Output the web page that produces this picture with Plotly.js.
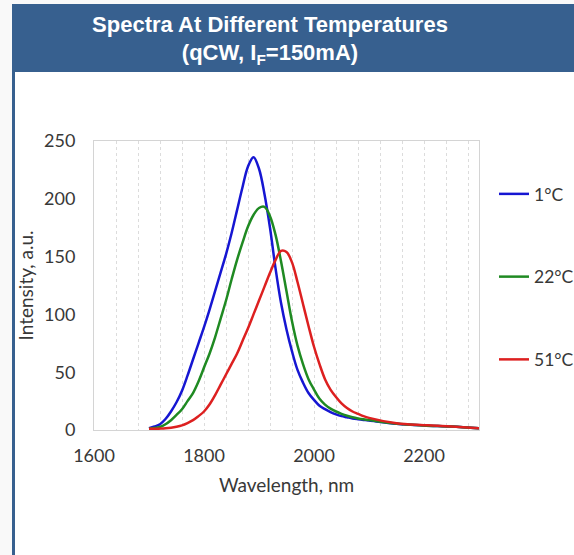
<!DOCTYPE html>
<html>
<head>
<meta charset="utf-8">
<script src="https://cdn.plot.ly/plotly-3.0.1.min.js"></script>
<style>
  html, body { margin: 0; padding: 0; background: #ffffff; }
  #chart { width: 574px; height: 555px; }
</style>
</head>
<body>
<div id="chart"></div>
<script>
// Data
const wavelength = [1700,1710,1720,1730,1740,1750,1760,1770,1780,1790,1800,1810,1820,1830,1840,1850,1860,1870,1880,1890,1900,1910,1920,1930,1940,1950,1960,1970,1980,1990,2000,2010,2020,2030,2040,2050,2060,2070,2080,2090,2100,2150,2200,2250,2300];
const temp1C  = [1.5,3,5,9.5,16,24,34,47,61,75,89,104,120,136,152,170,190,210,228,236,226,204,175,140,110,87,68,52,41,32,26,21,18,15.5,13.5,12,11,10,9.3,8.7,8.2,5.5,4,3,1.5];
const temp22C = [1,1.7,2.7,5,8.5,13,18,25,32,42,54,66,80,96,112,130,147,162,176,186,192,193,185,169,146,120,94,73,57,44,35,27,22,18.5,16,14,12.3,11,10,9.2,8.6,5.5,4,3,1.5];
const temp51C = [1,1,1.2,1.5,2,2.8,4,6,8.5,12,16,22,30,39,48,57,66,77,88,100,112,124,136,147,155,154,145,128,109,90,72,57,44,35,28.5,23,19,16,14,12,10.5,5.8,4.2,3,1.5];
const seriesNames = ['1°C','22°C','51°C'];
const xTicks = [1600,1800,2000,2200];
const yTicks = [0,50,100,150,200,250];

const colors = ['#1616d2','#1f8a22','#dd2020'];
const series = [temp1C, temp22C, temp51C];

const traces = series.map((ys, i) => ({
  type: 'scatter',
  mode: 'lines',
  x: wavelength,
  y: ys,
  name: seriesNames[i],
  legendgroup: 'g' + i,
  line: { color: colors[i], width: 2.5, shape: 'spline', smoothing: 1 }
}));

// plot area: x 94..479, y 141..430
const L = 94, R = 479, T = 141, B = 430, W = 574, H = 555;
const px = v => (v - L) / (R - L);
const py = v => (B - v) / (B - T);
const headerBlue = '#37608f';

const layout = {
  width: W, height: H,
  margin: { l: L, r: W - R, t: T, b: H - B, autoexpand: false },
  paper_bgcolor: '#ffffff',
  plot_bgcolor: '#ffffff',
  showlegend: true,
  title: {
    text: 'Spectra At Different Temperatures<br>(qCW, I<sub>F</sub>=150mA)',
    font: { family: 'Liberation Sans, Arial, sans-serif', size: 22, color: '#ffffff', weight: 'bold' },
    x: 270 / W, xanchor: 'center', xref: 'container',
    y: 1 - 31.5 / H, yanchor: 'middle', yref: 'container'
  },
  font: { family: 'Lato, Carlito, sans-serif', color: '#383838' },
  xaxis: {
    range: [1600, 2300],
    tickvals: xTicks,
    ticktext: xTicks.map(String),
    ticks: '',
    tickfont: { size: 18, color: '#383838' },
    ticklabelstandoff: 9,
    showgrid: true, gridcolor: '#dcdcdc', gridwidth: 1, griddash: 'dot',
    minor: { dtick: 40, tick0: 1600, showgrid: true, gridcolor: '#dcdcdc', gridwidth: 1, griddash: 'dot', ticks: '' },
    showline: true, linecolor: '#d4d4d4', linewidth: 1, mirror: true,
    zeroline: false,
    title: { text: 'Wavelength, nm', font: { size: 19, color: '#383838' }, standoff: 14 }
  },
  yaxis: {
    range: [0, 250],
    tickvals: yTicks,
    ticktext: yTicks.map(String),
    ticks: '',
    tickfont: { size: 18, color: '#383838' },
    ticklabelstandoff: 14,
    showgrid: false,
    showline: true, linecolor: '#d4d4d4', linewidth: 1, mirror: true,
    zeroline: false,
    title: { text: 'Intensity, a.u.', font: { size: 19, color: '#383838' }, standoff: 5 }
  },
  legend: {
    x: px(494), xanchor: 'left',
    y: py(176), yanchor: 'top',
    traceorder: 'grouped',
    tracegroupgap: 57,
    font: { size: 17.5, color: '#383838' },
    bgcolor: 'rgba(0,0,0,0)',
    itemwidth: 30
  },
  shapes: [
    { type: 'rect', xref: 'paper', yref: 'paper', x0: px(0), x1: px(12), y0: py(H), y1: py(0), fillcolor: '#f9f9f9', line: { width: 0 }, layer: 'below' },
    { type: 'rect', xref: 'paper', yref: 'paper', x0: px(12), x1: px(W), y0: py(4), y1: py(0), fillcolor: '#f9f9f9', line: { width: 0 }, layer: 'below' },
    { type: 'rect', xref: 'paper', yref: 'paper', x0: px(12), x1: px(W), y0: py(72), y1: py(4), fillcolor: headerBlue, line: { width: 0 }, layer: 'below' },
    { type: 'rect', xref: 'paper', yref: 'paper', x0: px(12), x1: px(15), y0: py(H), y1: py(72), fillcolor: headerBlue, line: { width: 0 }, layer: 'below' }
  ]
};

Plotly.newPlot('chart', traces, layout, { staticPlot: true, displayModeBar: false });
</script>
</body>
</html>
